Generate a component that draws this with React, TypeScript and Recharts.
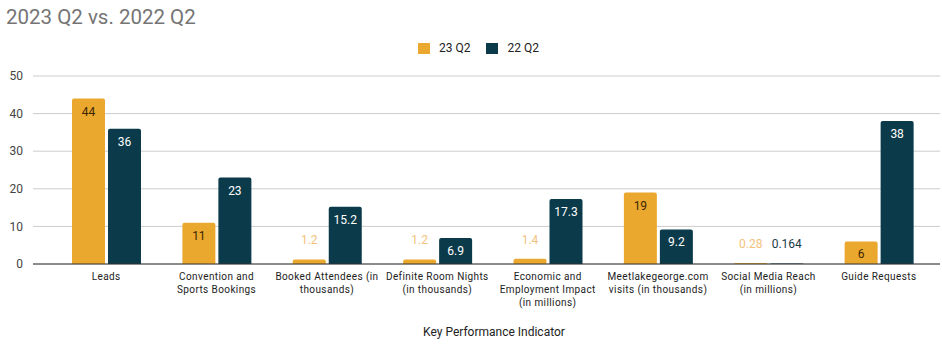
import { BarChart, Bar, XAxis, YAxis, CartesianGrid, LabelList, ReferenceLine } from 'recharts';

const CATEGORIES = [
  'Leads',
  'Convention and\nSports Bookings',
  'Booked Attendees (in\nthousands)',
  'Definite Room Nights\n(in thousands)',
  'Economic and\nEmployment Impact\n(in millions)',
  'Meetlakegeorge.com\nvisits (in thousands)',
  'Social Media Reach\n(in millions)',
  'Guide Requests',
];
const Q2_2023 = [44, 11, 1.2, 1.2, 1.4, 19, 0.28, 6];
const Q2_2022 = [36, 23, 15.2, 6.9, 17.3, 9.2, 0.164, 38];
const Y_TICKS = [0, 10, 20, 30, 40, 50];

const SERIES = [
  { key: 'q23', name: '23 Q2', color: '#eba82e', inside: '#3b2600', outside: '#f2c27c' },
  { key: 'q22', name: '22 Q2', color: '#0b3a4a', inside: '#ffffff', outside: '#1b3a48' },
];

const data = CATEGORIES.map((c, i) => ({ name: c, q23: Q2_2023[i], q22: Q2_2022[i] }));

const FONT = 'Roboto, "Liberation Sans", Arial, sans-serif';

function makeLabel(inside: string, outside: string) {
  return (props: any) => {
    const { x, y, width, height, value } = props;
    const fits = height > 20;
    return (
      <text
        x={x + width / 2}
        y={fits ? y + 13 : y - 19}
        textAnchor="middle"
        dominantBaseline="central"
        fontSize={12}
        fontFamily={FONT}
        fill={fits ? inside : outside}
      >
        {value}
      </text>
    );
  };
}

function CategoryTick({ x, y, payload }: any) {
  const lines = String(payload.value).split('\n');
  return (
    <text x={x} y={y} textAnchor="middle" fontSize={10} fontFamily={FONT} fill="#222" letterSpacing={0.4}>
      {lines.map((l, i) => (
        <tspan key={i} x={x} dy={i === 0 ? 8 : 13}>
          {l}
        </tspan>
      ))}
    </text>
  );
}

export default function App() {
  return (
    <div style={{ position: 'absolute', left: 0, top: 0, width: 942, height: 359, background: '#fff', fontFamily: FONT }}>
      <div style={{ position: 'absolute', left: 6, top: 5, fontSize: 20.5, color: '#757575' }}>2023 Q2 vs. 2022 Q2</div>
      <div style={{ position: 'absolute', left: 418, top: 41, display: 'flex', alignItems: 'center', fontSize: 12, color: '#222' }}>
        {SERIES.map((s) => (
          <div key={s.key} style={{ display: 'flex', alignItems: 'center', marginRight: 16 }}>
            <span style={{ display: 'inline-block', width: 12, height: 11, background: s.color, marginRight: 9 }} />
            <span>{s.name}</span>
          </div>
        ))}
      </div>
      <BarChart
        width={942}
        height={359}
        data={data}
        margin={{ top: 76, right: 2, left: 0, bottom: 35 }}
        barSize={33}
        barGap={3}
      >
        <CartesianGrid vertical={false} stroke="#cccccc" />
        <XAxis
          dataKey="name"
          interval={0}
          height={60}
          tickLine={false}
          axisLine={false}
          tick={<CategoryTick />}
          padding={{ left: 18, right: 6 }}
        />
        <YAxis
          width={33}
          domain={[0, 50]}
          ticks={Y_TICKS}
          tickLine={false}
          axisLine={false}
          tick={{ fontSize: 12, fill: '#444', fontFamily: FONT }}
          tickMargin={4}
        />
        <ReferenceLine y={0} stroke="#333" />
        {SERIES.map((s) => (
          <Bar key={s.key} dataKey={s.key} name={s.name} fill={s.color} radius={[2, 2, 0, 0]} isAnimationActive={false}>
            <LabelList dataKey={s.key} content={makeLabel(s.inside, s.outside)} />
          </Bar>
        ))}
      </BarChart>
      <div style={{ position: 'absolute', left: 0, width: 988, top: 325, textAlign: 'center', fontSize: 12, color: '#222' }}>
        Key Performance Indicator
      </div>
    </div>
  );
}
